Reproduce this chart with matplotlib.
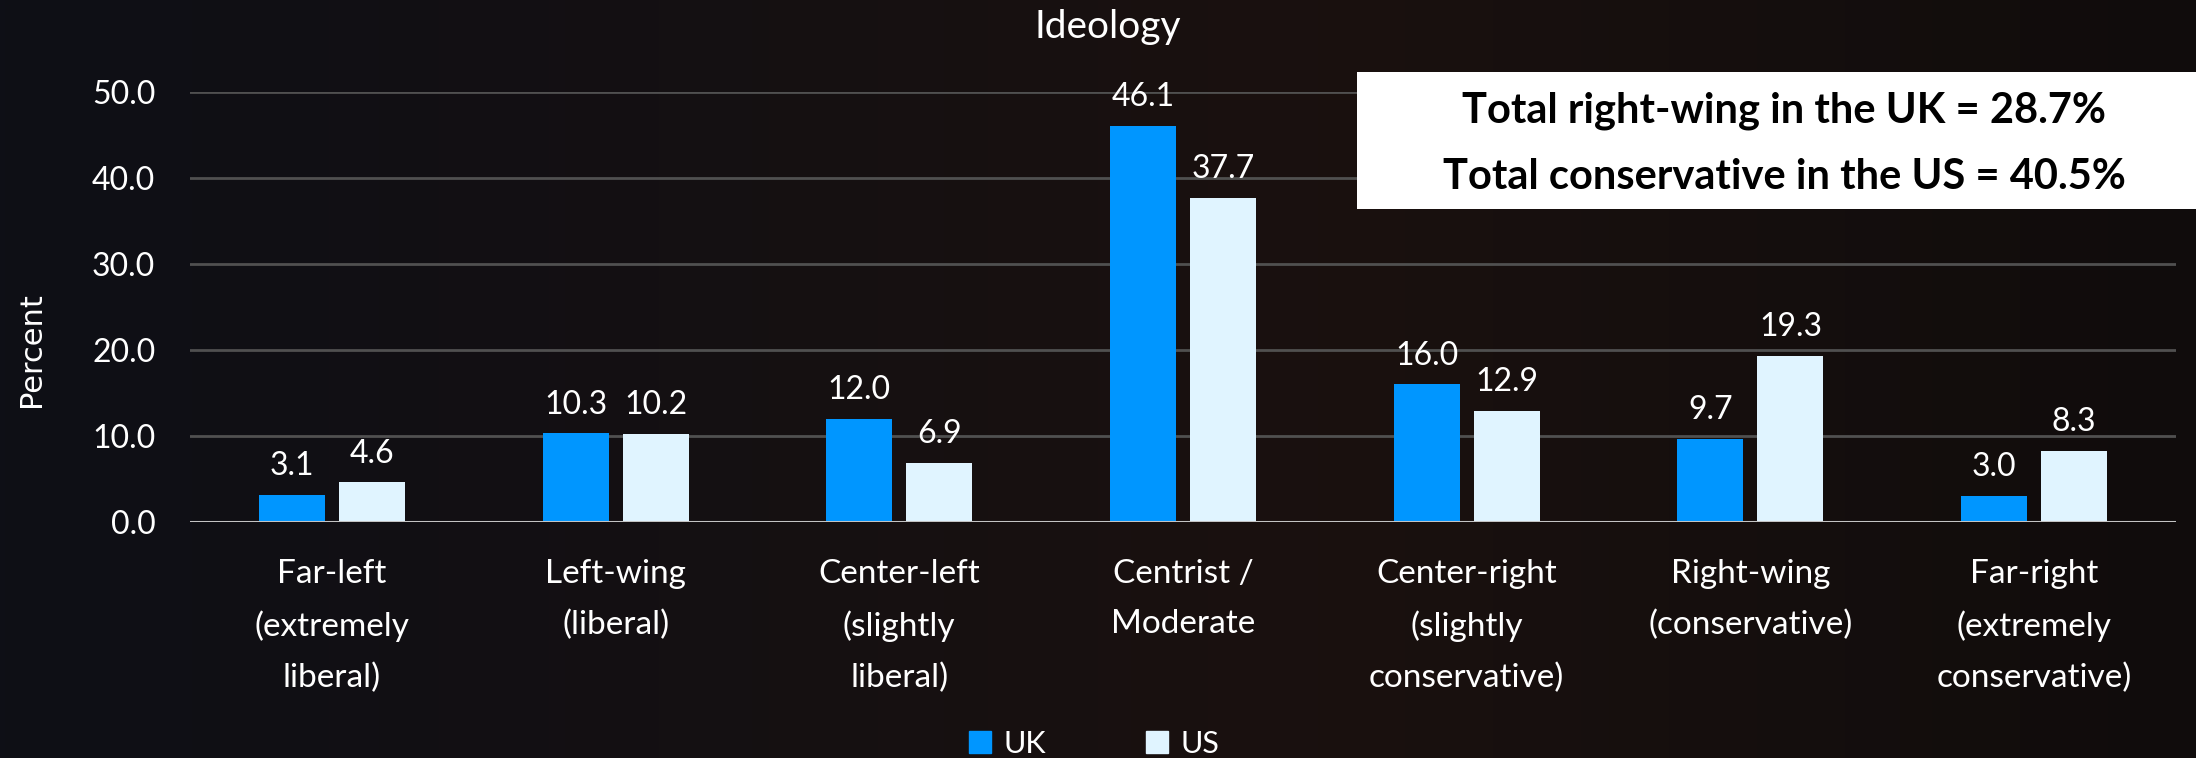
import numpy as np
import matplotlib
matplotlib.use("Agg")
import matplotlib.pyplot as plt
from matplotlib.patches import Rectangle, Patch

categories = ["Far-left\n(extremely\nliberal)", "Left-wing\n(liberal)", "Center-left\n(slightly\nliberal)",
              "Centrist /\nModerate", "Center-right\n(slightly\nconservative)", "Right-wing\n(conservative)",
              "Far-right\n(extremely\nconservative)"]
uk = [3.1, 10.3, 12.0, 46.1, 16.0, 9.7, 3.0]
us = [4.6, 10.2, 6.9, 37.7, 12.9, 19.3, 8.3]
yticks = [0, 10, 20, 30, 40, 50]
box_lines = ["Total right-wing in the UK = 28.7%", "Total conservative in the US = 40.5%"]

FONT = ["Lato", "DejaVu Sans"]
plt.rcParams['font.family'] = FONT

W, H = 2196, 758
fig = plt.figure(figsize=(W / 100, H / 100), dpi=100)
fig.patch.set_facecolor("#0a0a0d")

# subtle dark background gradient
bg = fig.add_axes([0, 0, 1, 1], zorder=-10)
xs = np.linspace(0, 1, 400)
c_left = np.array([14, 15, 22]) / 255
c_mid = np.array([26, 17, 15]) / 255
c_right = np.array([16, 12, 12]) / 255
t = xs[:, None]
grad = np.where(t < 0.6, c_left + (c_mid - c_left) * (t / 0.6), c_mid + (c_right - c_mid) * ((t - 0.6) / 0.4))
bg.imshow(grad[None, :, :], aspect="auto", extent=[0, 1, 0, 1])
bg.set_axis_off()

AXL, AXR, AXB, AXT = 190, 2176, 522, 92
ax = fig.add_axes([AXL / W, 1 - AXB / H, (AXR - AXL) / W, (AXB - AXT) / H])
ax.set_facecolor("none")
x = np.arange(len(categories))
bw = 0.2326
off = 0.141
b1 = ax.bar(x - off, uk, bw, color="#0096FF", label="UK", zorder=3)
b2 = ax.bar(x + off, us, bw, color="#E0F4FF", label="US", zorder=3)
for bars in (b1, b2):
    ax.bar_label(bars, labels=[f"{v:.1f}" for v in bars.datavalues], padding=10,
                 color="white", fontsize=23, clip_on=False)

ax.set_xlim(-0.5, 6.5)
ax.set_ylim(0, 50)
ax.set_yticks(yticks)
ax.set_yticklabels([f"{v:.1f}" for v in yticks])
ax.set_xticks(x)
ax.set_xticklabels(categories, linespacing=1.84)
ax.tick_params(axis="both", length=0, colors="white")
ax.tick_params(axis="y", pad=25, labelsize=23)
ax.tick_params(axis="x", pad=26.5, labelsize=24)
for s in ax.spines.values():
    s.set_visible(False)
ax.grid(axis="y", color="#505050", linewidth=2, zorder=1)
ax.axhline(0, color="#c4c4c4", linewidth=2.2, zorder=4)
ax.set_axisbelow(True)

ax.set_ylabel("Percent", color="white", fontsize=22, family="DejaVu Sans")
ax.yaxis.set_label_coords((46 - AXL) / (AXR - AXL), 0.40)

fig.text(1108 / W, 1 - 38 / H, "Ideology", color="white", fontsize=28, ha="center", va="baseline")

# white annotation box
fig.patches.append(Rectangle((1357 / W, 1 - 209 / H), 1 - 1357 / W, (209 - 72) / H,
                             transform=fig.transFigure, facecolor="white", edgecolor="none", zorder=5))
fig.text(1784 / W, 1 - 122 / H, box_lines[0], color="black", fontsize=30, fontweight="bold",
         ha="center", va="baseline", zorder=6)
fig.text(1784 / W, 1 - 189 / H, box_lines[1], color="black", fontsize=30, fontweight="bold",
         ha="center", va="baseline", zorder=6)

leg = fig.legend(handles=[Patch(color="#0096FF", label="UK"), Patch(color="#E0F4FF", label="US")],
                 loc="center", bbox_to_anchor=(1094 / W, 1 - 744 / H), ncol=2, frameon=False,
                 fontsize=22, handlelength=0.72, handleheight=0.72, handletextpad=0.4,
                 columnspacing=3.27, labelcolor="white")

fig.savefig("out.png", dpi=100, facecolor=fig.get_facecolor())
